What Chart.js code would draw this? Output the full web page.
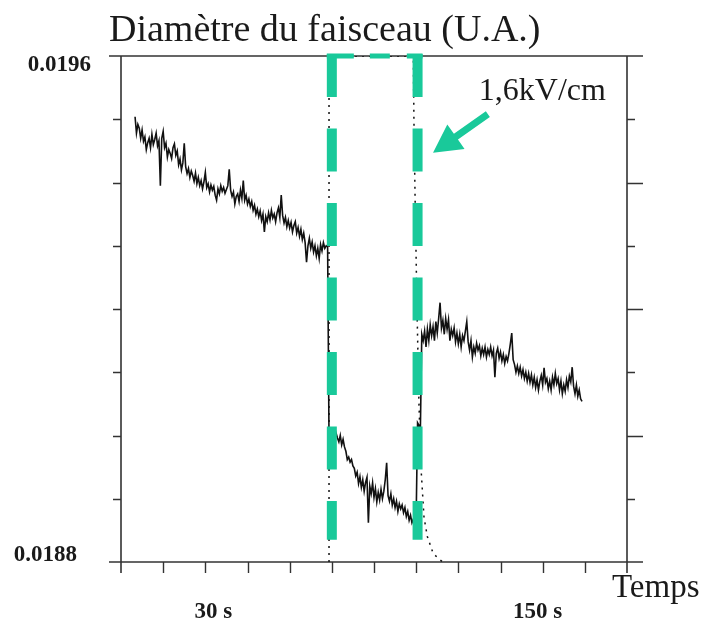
<!DOCTYPE html>
<html>
<head>
<meta charset="utf-8">
<script src="https://cdn.jsdelivr.net/npm/chart.js@4.4.1/dist/chart.umd.min.js"></script>
<style>
  html, body { margin: 0; padding: 0; background: #fff; }
  #wrap { width: 710px; height: 624px; }
</style>
</head>
<body>
<div id="wrap"><canvas id="beam" width="710" height="624"></canvas></div>
<script>
// ── Axes ─────────────────────────────────
const T_MIN = 0, T_MAX = 180, T_STEP = 15;
const D_MIN = 0.0188, D_MAX = 0.0196, D_STEP = 0.0001;
const xTickLabels = [{ t: 30, text: '30 s' }, { t: 150, text: '150 s' }];
const yTickLabels = [{ v: 0.0196, text: '0.0196' }, { v: 0.0188, text: '0.0188' }];
const titleText = 'Diamètre du faisceau (U.A.)';
const xAxisTitle = 'Temps';
const fieldLabel = '1,6kV/cm';

// ── Beam diameter, sampled every 0.5 s ───
const dt = 0.5;

// before the field is applied (t = 5 … 73.5 s)
const t0Before = 5;
const diamBefore = [
  0.019504, 0.019478, 0.019492, 0.019486, 0.019470, 0.019483, 0.019465, 0.019472, 0.019452, 0.019463,
  0.019470, 0.019455, 0.019476, 0.019460, 0.019468, 0.019478, 0.019458, 0.019466, 0.019395, 0.019470,
  0.019481, 0.019455, 0.019462, 0.019440, 0.019452, 0.019446, 0.019438, 0.019455, 0.019461, 0.019443,
  0.019450, 0.019428, 0.019437, 0.019420, 0.019431, 0.019462, 0.019425, 0.019414, 0.019422, 0.019408,
  0.019418, 0.019411, 0.019402, 0.019415, 0.019398, 0.019408, 0.019395, 0.019403, 0.019390, 0.019401,
  0.019416, 0.019392, 0.019398, 0.019385, 0.019396, 0.019388, 0.019394, 0.019380, 0.019372, 0.019390,
  0.019382, 0.019395, 0.019386, 0.019392, 0.019383, 0.019389, 0.019395, 0.019421, 0.019388, 0.019378,
  0.019385, 0.019366, 0.019378, 0.019382, 0.019370, 0.019388, 0.019375, 0.019403, 0.019372, 0.019380,
  0.019366, 0.019374, 0.019362, 0.019370, 0.019356, 0.019364, 0.019350, 0.019358, 0.019346, 0.019355,
  0.019340, 0.019350, 0.019322, 0.019346, 0.019338, 0.019352, 0.019341, 0.019356, 0.019344, 0.019350,
  0.019338, 0.019352, 0.019360, 0.019345, 0.019380, 0.019348, 0.019336, 0.019345, 0.019330, 0.019340,
  0.019328, 0.019337, 0.019322, 0.019332, 0.019338, 0.019320, 0.019329, 0.019315, 0.019326, 0.019310,
  0.019320, 0.019305, 0.019274, 0.019300, 0.019312, 0.019296, 0.019306, 0.019290, 0.019300, 0.019284,
  0.019296, 0.019280, 0.019302, 0.019292, 0.019305, 0.019296, 0.019300, 0.019298
];

// under the field (t = 74 … 107.5 s)
const t0Field = 74;
const diamField = [
  0.018995, 0.019002, 0.018990, 0.019000, 0.018992, 0.019004, 0.018996, 0.018990, 0.019000, 0.018985,
  0.018994, 0.018982, 0.018975, 0.018962, 0.018966, 0.018958, 0.018962, 0.018952, 0.018948, 0.018936,
  0.018942, 0.018924, 0.018935, 0.018918, 0.018930, 0.018912, 0.018926, 0.018934, 0.018862, 0.018920,
  0.018908, 0.018925, 0.018902, 0.018916, 0.018895, 0.018910, 0.018898, 0.018915, 0.018900, 0.018912,
  0.018930, 0.018957, 0.018905, 0.018896, 0.018908, 0.018890, 0.018900, 0.018886, 0.018896, 0.018880,
  0.018892, 0.018884, 0.018890, 0.018878, 0.018886, 0.018872, 0.018880, 0.018866, 0.018874, 0.018862,
  0.018868, 0.018860, 0.018872, 0.019020, 0.019016, 0.019010, 0.019160, 0.019150
];

// after the field (t = 108 … 164 s)
const t0After = 108;
const diamAfter = [
  0.019165, 0.019140, 0.019168, 0.019150, 0.019175, 0.019158, 0.019172, 0.019150, 0.019180, 0.019162,
  0.019185, 0.019210, 0.019170, 0.019182, 0.019160, 0.019185, 0.019168, 0.019183, 0.019150, 0.019168,
  0.019158, 0.019170, 0.019148, 0.019162, 0.019145, 0.019160, 0.019140, 0.019158, 0.019150, 0.019165,
  0.019180, 0.019148, 0.019135, 0.019150, 0.019124, 0.019140, 0.019130, 0.019146, 0.019135, 0.019142,
  0.019126, 0.019138, 0.019128, 0.019140, 0.019124, 0.019136, 0.019128, 0.019140, 0.019126, 0.019135,
  0.019092, 0.019130, 0.019138, 0.019122, 0.019132, 0.019118, 0.019128, 0.019114, 0.019125, 0.019118,
  0.019130, 0.019145, 0.019162, 0.019120, 0.019112, 0.019100, 0.019110, 0.019098, 0.019108, 0.019094,
  0.019104, 0.019090, 0.019100, 0.019086, 0.019098, 0.019084, 0.019096, 0.019080, 0.019092, 0.019076,
  0.019088, 0.019072, 0.019086, 0.019095, 0.019080, 0.019107, 0.019084, 0.019090, 0.019074, 0.019086,
  0.019072, 0.019092, 0.019080, 0.019098, 0.019082, 0.019090, 0.019072, 0.019086, 0.019066, 0.019080,
  0.019070, 0.019088, 0.019076, 0.019094, 0.019085, 0.019108, 0.019078, 0.019066, 0.019080, 0.019062,
  0.019072, 0.019058, 0.019054
];

// field pulse (dotted trace)
const pulseT = [74.0, 74.0, 104.0, 104.2, 104.6, 105.3, 106.0, 106.7, 107.8, 109.0, 111.0, 112.8, 114.5];
const pulseD = [0.0188, 0.0196, 0.0196, 0.01950, 0.01938, 0.01920, 0.01905, 0.018950, 0.018870, 0.018840, 0.018814, 0.018806, 0.0188];

// field window box and arrow (data coords)
const fieldBox = { t1: 75, t2: 105.5, low: 0.018835 };
const arrowTip = { t: 111, v: 0.019447 };
const arrowTail = { t: 130.5, v: 0.019508 };
const fieldLabelAt = { t: 127.3, v: 0.01953 };

const GREEN = '#19c99a';
const INK = '#1a1a1a';

function toPoints(t0, values) {
  return values.map((v, i) => ({ x: t0 + i * dt, y: v }));
}
const beamPoints = [
  ...toPoints(t0Before, diamBefore),
  ...toPoints(t0Field, diamField),
  ...toPoints(t0After, diamAfter)
];
const pulsePoints = pulseT.map((t, i) => ({ x: t, y: pulseD[i] }));

// box axes, tick marks, titles
const framePlugin = {
  id: 'frame',
  beforeDatasetsDraw(chart) {
    const { ctx, chartArea: a, scales: { x, y } } = chart;
    ctx.save();
    ctx.strokeStyle = '#333';
    ctx.lineWidth = 1.6;
    ctx.beginPath();
    ctx.moveTo(a.left - 12, a.top); ctx.lineTo(a.right + 16, a.top);
    ctx.moveTo(a.left - 12, a.bottom); ctx.lineTo(a.right + 16, a.bottom);
    ctx.moveTo(a.left, a.top); ctx.lineTo(a.left, a.bottom + 11);
    ctx.moveTo(a.right, a.top); ctx.lineTo(a.right, a.bottom + 11);
    ctx.stroke();

    ctx.lineWidth = 1.4;
    ctx.beginPath();
    let k = 1;
    for (let v = D_MIN + D_STEP; v < D_MAX - D_STEP / 2; v += D_STEP, k++) {
      const py = Math.round(y.getPixelForValue(v)) + 0.5;
      ctx.moveTo(a.left - 8, py); ctx.lineTo(a.left, py);
      ctx.moveTo(a.right, py); ctx.lineTo(a.right + (k % 2 === 0 ? 16 : 8), py);
    }
    for (let t = T_MIN + T_STEP; t < T_MAX; t += T_STEP) {
      const px = Math.round(x.getPixelForValue(t)) + 0.5;
      ctx.moveTo(px, a.bottom); ctx.lineTo(px, a.bottom + 11);
    }
    ctx.stroke();
    ctx.restore();
  },
  afterDatasetsDraw(chart) {
    const { ctx, chartArea: a, scales: { x, y } } = chart;
    ctx.save();

    // field window
    const gx1 = x.getPixelForValue(fieldBox.t1), gx2 = x.getPixelForValue(fieldBox.t2);
    const gTop = y.getPixelForValue(D_MAX), gBot = y.getPixelForValue(fieldBox.low);
    ctx.strokeStyle = GREEN;
    ctx.lineCap = 'butt';
    ctx.lineWidth = 10;
    ctx.setLineDash([43, 31.5]);
    [gx1, gx2].forEach(px => {
      ctx.beginPath(); ctx.moveTo(px, gTop - 2); ctx.lineTo(px, gBot); ctx.stroke();
    });
    ctx.lineWidth = 5;
    ctx.setLineDash([27, 16, 20, 17, 16, 200]);
    ctx.beginPath(); ctx.moveTo(gx1 - 5, gTop); ctx.lineTo(gx2 + 5, gTop); ctx.stroke();
    ctx.setLineDash([]);

    // arrow
    const tip = { x: x.getPixelForValue(arrowTip.t), y: y.getPixelForValue(arrowTip.v) };
    const tail = { x: x.getPixelForValue(arrowTail.t), y: y.getPixelForValue(arrowTail.v) };
    const len = Math.hypot(tail.x - tip.x, tail.y - tip.y);
    const ux = (tail.x - tip.x) / len, uy = (tail.y - tip.y) / len;
    const nx = -uy, ny = ux;
    const headLen = 28, headHalf = 15, shaftHalf = 3.5;
    const bx = tip.x + ux * headLen, by = tip.y + uy * headLen;
    ctx.fillStyle = GREEN;
    ctx.beginPath();
    ctx.moveTo(tip.x, tip.y);
    ctx.lineTo(bx + nx * headHalf, by + ny * headHalf);
    ctx.lineTo(bx + nx * shaftHalf, by + ny * shaftHalf);
    ctx.lineTo(tail.x + nx * shaftHalf, tail.y + ny * shaftHalf);
    ctx.lineTo(tail.x - nx * shaftHalf, tail.y - ny * shaftHalf);
    ctx.lineTo(bx - nx * shaftHalf, by - ny * shaftHalf);
    ctx.lineTo(bx - nx * headHalf, by - ny * headHalf);
    ctx.closePath();
    ctx.fill();

    // texts
    ctx.fillStyle = INK;
    ctx.textBaseline = 'alphabetic';
    ctx.textAlign = 'left';
    ctx.font = '32px "Liberation Serif", serif';
    ctx.fillText(fieldLabel, x.getPixelForValue(fieldLabelAt.t), y.getPixelForValue(fieldLabelAt.v));
    ctx.font = '38px "Liberation Serif", serif';
    ctx.fillText(titleText, a.left - 12, a.top - 15);
    ctx.font = '33px "Liberation Serif", serif';
    ctx.fillText(xAxisTitle, a.right - 15, a.bottom + 35);

    ctx.font = 'bold 23px "Liberation Serif", serif';
    ctx.textAlign = 'right';
    ctx.textBaseline = 'middle';
    const yShift = [{ dx: -30, dy: 9 }, { dx: -44, dy: -7 }];
    yTickLabels.forEach((l, i) => {
      ctx.fillText(l.text, a.left + yShift[i].dx, y.getPixelForValue(l.v) + yShift[i].dy);
    });
    ctx.textAlign = 'center';
    ctx.textBaseline = 'alphabetic';
    const xShift = [8, -5];
    xTickLabels.forEach((l, i) => {
      ctx.fillText(l.text, x.getPixelForValue(l.t) + xShift[i], a.bottom + 56);
    });
    ctx.restore();
  }
};

new Chart(document.getElementById('beam'), {
  type: 'line',
  data: {
    datasets: [
      { data: beamPoints, borderColor: '#111', borderWidth: 1.6, pointRadius: 0, tension: 0 },
      { data: pulsePoints, borderColor: '#111', borderWidth: 1.5, borderDash: [2, 5], pointRadius: 0, tension: 0 }
    ]
  },
  options: {
    responsive: false,
    animation: false,
    layout: { padding: { left: 121, right: 83, top: 56, bottom: 62 } },
    plugins: { legend: { display: false }, tooltip: { enabled: false } },
    scales: {
      x: { type: 'linear', min: T_MIN, max: T_MAX, display: false },
      y: { type: 'linear', min: D_MIN, max: D_MAX, display: false }
    }
  },
  plugins: [framePlugin]
});
</script>
</body>
</html>
